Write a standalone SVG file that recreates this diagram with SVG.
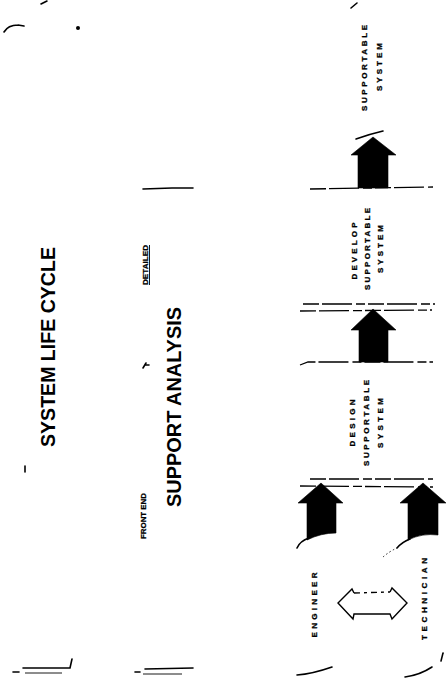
<svg xmlns="http://www.w3.org/2000/svg" width="446" height="681" viewBox="0 0 446 681">
<style>
.big{font-family:"Liberation Sans",Arial,sans-serif;font-weight:bold;font-size:19.5px;fill:#000}
.lbl{font-family:"Liberation Sans",Arial,sans-serif;font-weight:bold;font-size:8px;fill:#000;stroke:#000;stroke-width:0.3}
.rule{stroke:#000;stroke-width:1.3;fill:none;stroke-dasharray:16 3 30 4 9 3}
.solid{stroke:#000;stroke-width:1.6;fill:none;stroke-linecap:round}
.thin{stroke:#000;stroke-width:0.9;fill:none}
.blk{fill:#000;stroke:#000;stroke-width:0.6;stroke-linejoin:round}
.hex{stroke:#000;stroke-width:1.4;fill:none;stroke-linejoin:miter}
</style>
<rect width="446" height="681" fill="#fff"/>

<!-- stray scan marks -->
<g id="marks">
<path class="solid" d="M4,32 Q8,25 18,25 M18,25 L24,26"/>
<circle cx="78" cy="28" r="2" fill="#000"/>
<path class="solid" d="M41,4 L47,1"/>
<path class="solid" d="M351,8 L357,3"/>
<path class="solid" d="M25,466 L25,472"/>
<path class="solid" d="M143,368 L146,363 M145,365 L149,365"/>
<path class="solid" d="M356,139 Q370,134 383,131"/>
<path class="solid" d="M443,653 L441,661"/>
</g>

<!-- phase rules / ticks -->
<g id="rules">
<path class="solid" d="M143,189 L172,188 L193,188"/>
<path class="solid" d="M23,668 L70,668 L72,659"/>
<path class="thin" d="M25,673 L62,673"/>
<path class="solid" d="M13,672 L19,672"/>
<path class="solid" d="M145,669 L193,668"/>
<path class="thin" d="M143,674 L182,674"/>
<path class="solid" d="M135,672 L140,672"/>
<path class="rule" d="M310,189 L433,187"/>
<path class="rule" d="M303,304 L435,304"/>
<path class="rule" d="M300,311 L432,310"/>
<path class="rule" d="M300,365 L308,362 L433,362"/>
<path class="rule" d="M310,479 L433,479"/>
<path class="rule" d="M300,486 L433,487"/>
<path class="solid" d="M297,675 Q312,674 332,667"/>
<path class="solid" d="M405,677 Q420,675 432,667"/>
</g>

<g id="title-lifecycle">
<text class="big" transform="translate(55,347) rotate(-90)" text-anchor="middle" textLength="200" lengthAdjust="spacingAndGlyphs">SYSTEM LIFE CYCLE</text>
</g>
<g id="title-support">
<text class="big" transform="translate(181,407) rotate(-90)" text-anchor="middle" textLength="200" lengthAdjust="spacingAndGlyphs">SUPPORT ANALYSIS</text>
</g>
<g id="front-end">
<text class="lbl" transform="translate(146,516) rotate(-90)" text-anchor="middle" textLength="46" lengthAdjust="spacingAndGlyphs">FRONT END</text>
</g>
<g id="detailed">
<text class="lbl" transform="translate(148,265) rotate(-90)" text-anchor="middle" textLength="40" lengthAdjust="spacingAndGlyphs">DETAILED</text>
<path class="thin" d="M149.5,245 L149.5,285"/>
</g>

<g id="supportable-system">
<text class="lbl" transform="translate(367,68) rotate(-90)" text-anchor="middle" textLength="86" lengthAdjust="spacing">SUPPORTABLE</text>
<text class="lbl" transform="translate(382,67) rotate(-90)" text-anchor="middle" textLength="48" lengthAdjust="spacing">SYSTEM</text>
</g>
<g id="develop">
<text class="lbl" transform="translate(357,251) rotate(-90)" text-anchor="middle" textLength="57" lengthAdjust="spacing">DEVELOP</text>
<text class="lbl" transform="translate(370,249) rotate(-90)" text-anchor="middle" textLength="82" lengthAdjust="spacing">SUPPORTABLE</text>
<text class="lbl" transform="translate(383,249) rotate(-90)" text-anchor="middle" textLength="48" lengthAdjust="spacing">SYSTEM</text>
</g>
<g id="design">
<text class="lbl" transform="translate(355,423) rotate(-90)" text-anchor="middle" textLength="47" lengthAdjust="spacing">DESIGN</text>
<text class="lbl" transform="translate(369,423) rotate(-90)" text-anchor="middle" textLength="86" lengthAdjust="spacing">SUPPORTABLE</text>
<text class="lbl" transform="translate(383,423) rotate(-90)" text-anchor="middle" textLength="50" lengthAdjust="spacing">SYSTEM</text>
</g>
<g id="engineer">
<text class="lbl" transform="translate(317,605) rotate(-90)" text-anchor="middle" textLength="65" lengthAdjust="spacing">ENGINEER</text>
</g>
<g id="technician">
<text class="lbl" transform="translate(427,599) rotate(-90)" text-anchor="middle" textLength="82" lengthAdjust="spacing">TECHNICIAN</text>
</g>

<g id="connectors">
<polygon class="blk" points="358,188 358,155 351,155 373,137 396,155 388,155 388,188"/>
<polygon class="blk" points="359,362 359,330 351,330 373,309 396,330 388,330 388,362"/>
<path class="blk" d="M307,540 L307,503 L298,503 L321,483 L343,503 L336,503 L336,533 Q321,533 307,540 Z"/>
<path class="solid" d="M297,548 Q300,541 309,538"/>
<path class="blk" d="M408,540 L408,503 L400,503 L423,483 L446,503 L438,503 L438,535 Q422,533 408,540 Z"/>
<path class="solid" d="M397,548 Q402,542 410,539"/>
<path class="thin" stroke-dasharray="1.5 2.5" d="M383,557 Q390,551 397,548"/>
<path class="hex" d="M354,593 L352,589 L338,603 L353,619 L354,614 L390,614 L392,619 L407,603 L392,588 L390,592"/>
<path class="hex" stroke-dasharray="6 4 3 4" d="M354,593 L390,592"/>
</g>
</svg>
